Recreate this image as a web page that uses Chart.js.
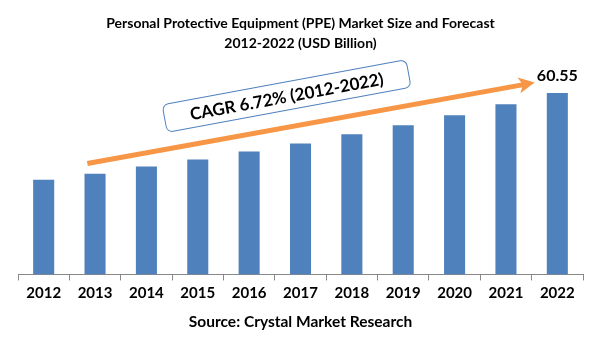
<!DOCTYPE html>
<html>
<head>
<meta charset="utf-8">
<script src="https://cdn.jsdelivr.net/npm/chart.js@4/dist/chart.umd.min.js"></script>
<style>
  html, body { margin: 0; padding: 0; background: #fff; }
  #wrap { width: 601px; height: 361px; }
</style>
</head>
<body>
<div id="wrap"><canvas id="myChart"></canvas></div>
<script>
// chart data
const years = ['2012', '2013', '2014', '2015', '2016', '2017', '2018', '2019', '2020', '2021', '2022'];
const marketSize = [31.6, 33.6, 36.0, 38.3, 41.0, 43.7, 46.8, 49.8, 53.1, 56.8, 60.55];
const titleLines = ['Personal Protective Equipment (PPE) Market Size and Forecast', '2012-2022 (USD Billion)'];
const sourceText = 'Source: Crystal Market Research';
const cagrText = 'CAGR 6.72% (2012-2022)';
const lastLabel = '60.55';

// arrow + callout box, placed in data units (category index, value)
const arrowFrom = [0.85, 37];
const arrowTo = [9.56, 64];
const boxAt = [4.73, 59.5];

const FONT = 'Lato, "Open Sans", sans-serif';

// draws the trend arrow, the CAGR callout and the value over the last bar
const extras = {
    id: 'extras',
    afterDatasetsDraw(chart) {
        const ctx = chart.ctx;
        const x = chart.scales.x, y = chart.scales.y;

        // orange arrow
        let x1 = x.getPixelForValue(arrowFrom[0]), y1 = y.getPixelForValue(arrowFrom[1]);
        let x2 = x.getPixelForValue(arrowTo[0]), y2 = y.getPixelForValue(arrowTo[1]);
        let ang = Math.atan2(y2 - y1, x2 - x1);
        ctx.save();
        ctx.strokeStyle = '#F79646';
        ctx.fillStyle = '#F79646';
        ctx.lineWidth = 5;
        ctx.beginPath();
        ctx.moveTo(x1, y1);
        ctx.lineTo(x2 - 10 * Math.cos(ang), y2 - 10 * Math.sin(ang));
        ctx.stroke();
        ctx.translate(x2, y2);
        ctx.rotate(ang);
        ctx.beginPath();
        ctx.moveTo(0, 0);
        ctx.lineTo(-16, -8);
        ctx.lineTo(-12, 0);
        ctx.lineTo(-16, 8);
        ctx.closePath();
        ctx.fill();
        ctx.restore();

        // callout box
        let bx = x.getPixelForValue(boxAt[0]), by = y.getPixelForValue(boxAt[1]);
        ctx.save();
        ctx.translate(bx, by);
        ctx.rotate(-10.5 * Math.PI / 180);
        ctx.beginPath();
        ctx.roundRect(-124, -14, 248, 28, 6);
        ctx.fillStyle = '#fff';
        ctx.fill();
        ctx.strokeStyle = '#4F81BD';
        ctx.lineWidth = 1;
        ctx.stroke();
        ctx.fillStyle = '#000';
        ctx.font = 'bold 17px ' + FONT;
        ctx.textAlign = 'center';
        ctx.textBaseline = 'middle';
        ctx.fillText(cagrText, 0, 1);
        ctx.restore();

        // value label over the last bar
        const bar = chart.getDatasetMeta(0).data[years.length - 1];
        ctx.save();
        ctx.fillStyle = '#000';
        ctx.font = 'bold 16px ' + FONT;
        ctx.textAlign = 'center';
        ctx.textBaseline = 'middle';
        ctx.fillText(lastLabel, bar.x, bar.y - 17);
        ctx.restore();
    }
};

let ctx = document.getElementById('myChart').getContext('2d');
let chart = new Chart(ctx, {
    type: 'bar',
    data: {
        labels: years,
        datasets: [{
            label: 'Market Size',
            data: marketSize,
            backgroundColor: '#4F81BD',
            categoryPercentage: 1,
            barPercentage: 0.41
        }]
    },
    options: {
        responsive: true,
        maintainAspectRatio: false,
        animation: false,
        layout: { padding: { left: 18, right: 18, top: 13, bottom: 30 } },
        plugins: {
            legend: { display: false },
            tooltip: { enabled: false },
            title: {
                display: true,
                text: titleLines,
                color: '#000',
                font: { family: FONT, size: 14, weight: 'bold', lineHeight: 1.45 },
                padding: { top: 0, bottom: 11 }
            },
            subtitle: {
                display: true,
                position: 'bottom',
                text: sourceText,
                color: '#000',
                font: { family: FONT, size: 15.5, weight: 'bold' },
                padding: { top: 6, bottom: 0 }
            }
        },
        scales: {
            x: {
                grid: { display: true, drawOnChartArea: false, drawTicks: true, tickLength: 6, color: '#888' },
                border: { display: true, color: '#888' },
                ticks: { color: '#000', font: { family: FONT, size: 15, weight: 'bold' }, padding: 4 }
            },
            y: {
                display: false,
                min: 0,
                max: 70
            }
        }
    },
    plugins: [extras]
});
</script>
</body>
</html>
